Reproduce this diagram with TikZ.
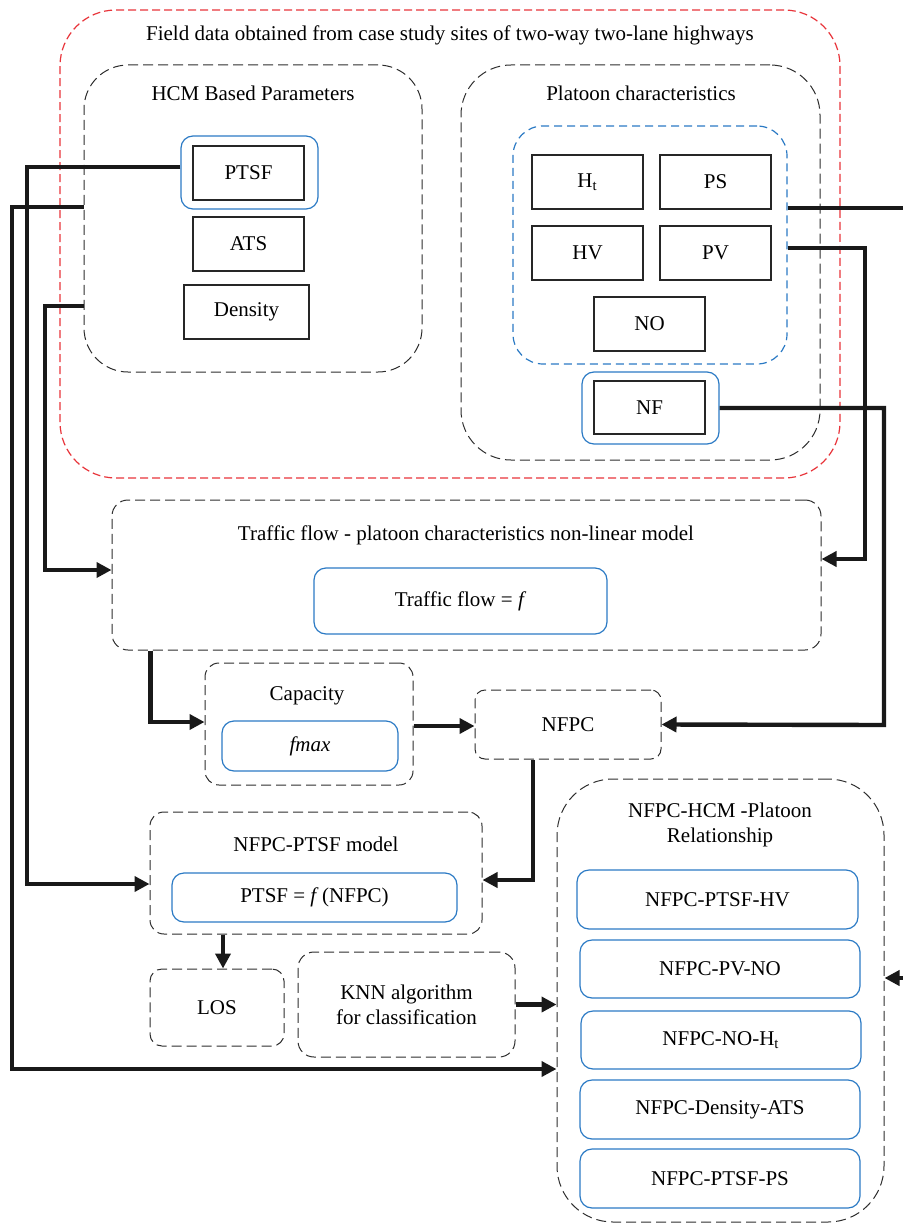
\documentclass[tikz,border=0pt]{standalone}
\usepackage{fontspec}
\setmainfont{Liberation Serif}
\usetikzlibrary{arrows.meta}
\definecolor{fieldred}{RGB}{232,52,58}
\definecolor{boxblue}{RGB}{43,122,196}
\definecolor{dashgray}{RGB}{45,45,45}
\begin{document}
\begin{tikzpicture}[x=0.5pt, y=-0.5pt, font=\fontsize{10.5}{12.5}\selectfont,
sz/.style 2 args={minimum width=#1*0.5pt, minimum height=#2*0.5pt},
grp/.style={draw=dashgray, dash pattern=on 5pt off 2.5pt, line width=0.5pt, inner sep=0pt},
redgrp/.style={draw=fieldred, dash pattern=on 4pt off 2pt, line width=0.6pt, rounded corners=28pt, inner sep=0pt},
bluegrp/.style={draw=boxblue, dash pattern=on 4pt off 2.5pt, line width=0.6pt, rounded corners=15pt, inner sep=0pt},
bluebox/.style={draw=boxblue, line width=0.6pt, rounded corners=6pt, inner sep=0pt},
param/.style={draw=black!85, line width=0.7pt, inner sep=0pt, sz={111}{54}},
conn/.style={line width=2.2pt, draw=black!90},
arr/.style={conn, -{Triangle[length=7.5pt,width=7.5pt]}}]
\useasboundingbox (0,0) rectangle (903,1225);
\node[redgrp, sz={780}{468}] (field) at (450,244) {};
\node (fieldtitle) at (450,35) {Field data obtained from case study sites of two-way two-lane highways};
\node[grp, rounded corners=22pt, sz={338}{307}] (hcm) at (253,218.5) {};
\node (hcmtitle) at (253,93) {HCM Based Parameters};
\node[bluebox, sz={137}{73}] (ptsfout) at (249.5,172.5) {};
\node[param] (ptsf) at (248.5,173) {PTSF};
\node[param] (ats) at (248.5,244) {ATS};
\node[param, sz={125}{54}] (dens) at (246.5,312) {Density};
\node[grp, rounded corners=25pt, sz={359}{395}] (plat) at (640.5,262.5) {};
\node (plattitle) at (641,93) {Platoon characteristics};
\node[bluegrp, sz={274}{238}] (platin) at (650,245) {};
\node[param] (ht) at (587.5,182) {H\textsubscript{t}};
\node[param] (ps) at (715.5,182) {PS};
\node[param] (hv) at (587.5,253) {HV};
\node[param] (pv) at (715.5,253) {PV};
\node[param] (no) at (649.5,324) {NO};
\node[bluebox, sz={137}{72}] (nfout) at (650.5,408) {};
\node[param, sz={111}{53}] (nf) at (649.5,407.5) {NF};
\node[grp, rounded corners=8pt, sz={709}{150}] (flow) at (466.5,575) {};
\node (flowtitle) at (466,535) {Traffic flow - platoon characteristics non-linear model};
\node[bluebox, sz={293}{66}] (flowin) at (460.5,601) {Traffic flow = \textit{f}};
\node[grp, rounded corners=7pt, sz={208}{122}] (cap) at (309,724) {};
\node (captitle) at (307,696) {Capacity};
\node[bluebox, sz={176}{50}] (fmax) at (310,746) {\textit{fmax}};
\node[grp, rounded corners=5pt, sz={186}{69}] (nfpc) at (568,724.5) {NFPC};
\node[grp, rounded corners=7pt, sz={332}{122}] (model) at (316,873) {};
\node (modeltitle) at (316,844) {NFPC-PTSF model};
\node[bluebox, sz={285}{49}] (modelin) at (314.5,897.5) {PTSF = \textit{f}\,(NFPC)};
\node[grp, rounded corners=6pt, sz={134}{77}] (los) at (217,1007.5) {LOS};
\node[grp, rounded corners=8pt, sz={217}{105}, align=center] (knn) at (406.5,1004.5) {KNN algorithm\\for classification};
\node[grp, rounded corners=28pt, sz={327}{443}] (rel) at (720.5,1000.5) {};
\node[align=center] (reltitle) at (720,825) {NFPC-HCM -Platoon\\Relationship};
\node[bluebox, sz={281}{59}] (r1) at (717.5,899.5) {NFPC-PTSF-HV};
\node[bluebox, sz={280}{58}] (r2) at (720,969) {NFPC-PV-NO};
\node[bluebox, sz={280}{58}] (r3) at (721,1040) {NFPC-NO-H\textsubscript{t}};
\node[bluebox, sz={280}{59}] (r4) at (720,1109.5) {NFPC-Density-ATS};
\node[bluebox, sz={280}{59}] (r5) at (720,1178.5) {NFPC-PTSF-PS};
\draw[arr] ([yshift=2.75pt]ptsfout.west) -| (27,884) -- ([yshift=-5.5pt]model.west);
\draw[arr] ([yshift=5.75pt]hcm.west) -| (12,1069) -- ([yshift=-34.25pt]rel.west);
\draw[arr] ([yshift=-43.75pt]hcm.west) -| (45,570) -- ([yshift=2.5pt]flow.west);
\draw[arr] ([yshift=18.5pt]platin.east) -| (930,978) -- ([yshift=11.25pt]rel.east);
\draw[arr] ([yshift=-1.5pt]platin.east) -| (865,559) -- ([yshift=8pt]flow.east);
\draw[arr] (nfout.east) -| (884,725) -- (nfpc.east);
\draw[arr] ([xshift=19.5pt]flow.south west) |- ([yshift=1pt]cap.west);
\draw[arr] ([yshift=-1pt]cap.east) -- ([yshift=-1pt]cap.east -| nfpc.west);
\draw[arr] ([xshift=-17.5pt]nfpc.south) |- ([yshift=-3.5pt]model.east);
\draw[arr] ([xshift=-46.5pt]model.south) -- ([xshift=3pt]los.north);
\draw[arr] (knn.east) -- (knn.east -| rel.west);
\end{tikzpicture}
\end{document}
